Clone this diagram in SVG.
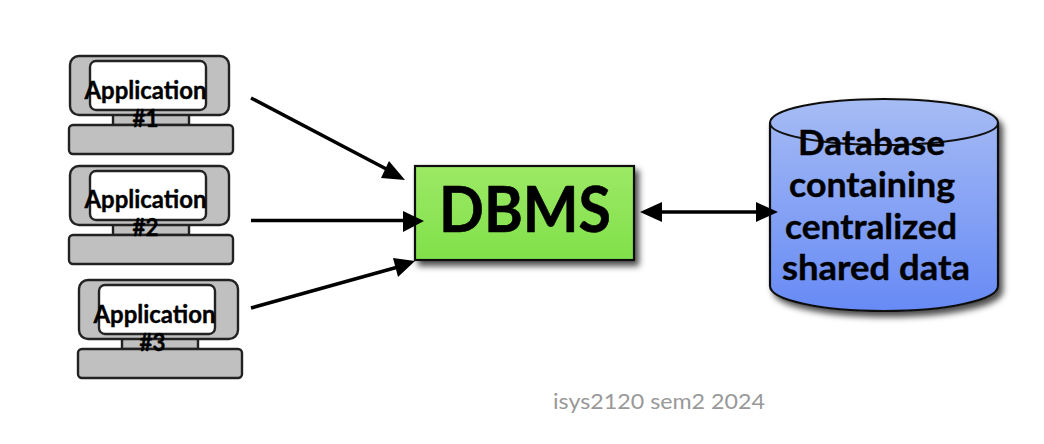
<svg xmlns="http://www.w3.org/2000/svg" width="1044" height="444" viewBox="0 0 1044 444">
<style>
text{font-family:Lato,"Open Sans","Liberation Sans",sans-serif;font-weight:700;fill:#000;text-anchor:middle}
.pc rect{fill:#c0c0c0;stroke:#222;stroke-width:2.400}
.pc .scr{fill:#fff}
.app{font-size:25px;stroke:#000;stroke-width:.4}
.db{font-size:35px;stroke:#000;stroke-width:.4}
.lnk{fill:none;stroke:#000;stroke-width:3.500}
.hd{fill:#000}
</style>
<defs>
<linearGradient id="g" x1="0" y1="0" x2="0" y2="1"><stop offset="0" stop-color="#9de965"/><stop offset="1" stop-color="#80e04a"/></linearGradient>
<linearGradient id="b" x1="0" y1="0" x2="0" y2="1"><stop offset="0" stop-color="#a6bcf4"/><stop offset="1" stop-color="#678af5"/></linearGradient>
<filter id="s" x="-10%" y="-10%" width="125%" height="125%"><feDropShadow dx="4" dy="5" stdDeviation="3" flood-color="#000" flood-opacity=".7"/></filter>
<g id="pc" class="pc">
<rect x="113" y="114" width="76" height="11"/>
<rect x="70" y="56" width="159" height="59" rx="9"/>
<rect class="scr" x="90" y="61" width="116" height="49" rx="6"/>
<rect x="69" y="125" width="164" height="29" rx="4"/>
</g>
</defs>
<g id="app1"><use href="#pc"/><text class="app" x="145.500" y="99" textLength="122" lengthAdjust="spacingAndGlyphs">Application</text><text class="app" x="145.500" y="127" textLength="26" lengthAdjust="spacingAndGlyphs">#1</text></g>
<g id="app2"><use href="#pc" y="110"/><text class="app" x="145.500" y="208" textLength="122" lengthAdjust="spacingAndGlyphs">Application</text><text class="app" x="145.500" y="236" textLength="26" lengthAdjust="spacingAndGlyphs">#2</text></g>
<g id="app3"><use href="#pc" x="9" y="224"/><text class="app" x="154.500" y="323" textLength="122" lengthAdjust="spacingAndGlyphs">Application</text><text class="app" x="152.500" y="351" textLength="26" lengthAdjust="spacingAndGlyphs">#3</text></g>
<g id="dbms"><rect x="415" y="166" width="219" height="94" fill="url(#g)" stroke="#111" stroke-width="2.200" filter="url(#s)"/><text x="525" y="232" font-size="63" textLength="172" lengthAdjust="spacingAndGlyphs" style="stroke:#000;stroke-width:.6">DBMS</text></g>
<g id="database">
<path d="M770 123C770 109 821 99 884 99S998 109 998 123V286C998 300 947 311 884 311S770 300 770 286Z" fill="url(#b)" stroke="#111" stroke-width="2.200" filter="url(#s)"/>
<path d="M770 123C770 135 821 145 884 145S998 135 998 123" fill="none" stroke="#111" stroke-width="2"/>
<text class="db" x="871.500" y="155" textLength="147" lengthAdjust="spacingAndGlyphs">Database</text>
<text class="db" x="872" y="197" textLength="166" lengthAdjust="spacingAndGlyphs">containing</text>
<text class="db" x="871" y="239" textLength="172" lengthAdjust="spacingAndGlyphs">centralized</text>
<text class="db" x="876" y="280" textLength="188" lengthAdjust="spacingAndGlyphs">shared data</text>
</g>
<g id="connectors">
<line class="lnk" x1="251" y1="98" x2="392" y2="172"/><polygon class="hd" points="405,180 381,178 389,161"/>
<line class="lnk" x1="251" y1="220.500" x2="405" y2="220.500"/><polygon class="hd" points="424,221 403,211 403,232"/>
<line class="lnk" x1="251" y1="308" x2="398" y2="267"/><polygon class="hd" points="415,261 393,258 398,277"/>
<line class="lnk" x1="655" y1="212" x2="762" y2="212"/><polygon class="hd" points="640,212 662,202 662,222"/><polygon class="hd" points="778,212 756,202 756,222"/>
</g>
<text x="659" y="409" font-size="22" textLength="212" lengthAdjust="spacingAndGlyphs" style="fill:#999;font-weight:400">isys2120 sem2 2024</text>
</svg>
